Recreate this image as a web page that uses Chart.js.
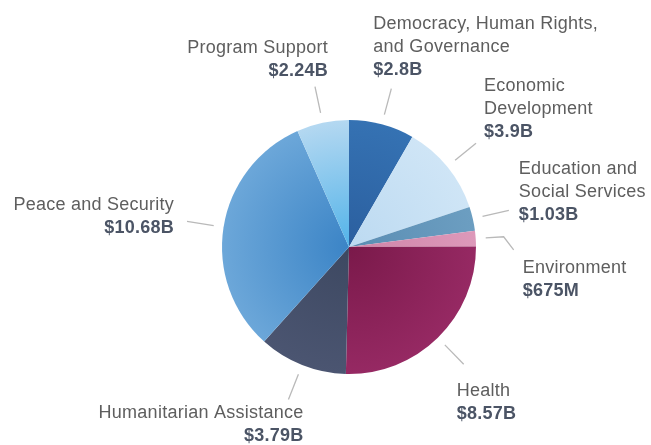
<!DOCTYPE html>
<html>
<head>
<meta charset="utf-8">
<script src="https://cdn.jsdelivr.net/npm/chart.js@4.4.0/dist/chart.umd.min.js"></script>
<style>
    html, body { margin: 0; padding: 0; background: #fff; }
    #wrap { width: 651px; height: 445px; }
</style>
</head>
<body>
<div id="wrap"><canvas id="pieCanvas" width="651" height="445"></canvas></div>
<script>
// funding by sector, in billions of dollars
const sectors = [
    ["Democracy, Human Rights,", "and Governance"],
    ["Economic", "Development"],
    ["Education and", "Social Services"],
    ["Environment"],
    ["Health"],
    ["Humanitarian Assistance"],
    ["Peace and Security"],
    ["Program Support"]
];
const amounts = [2.8, 3.9, 1.03, 0.675, 8.57, 3.79, 10.68, 2.24];

// slice colours: near the centre / at the rim
const innerColors = ["#2b5f9f", "#bcdaf1", "#5a8db3", "#cf84a8", "#7a194a", "#3d4861", "#3b84c6", "#52b3e9"];
const outerColors = ["#3572b3", "#cfe5f6", "#6c9ec1", "#dd99ba", "#962963", "#4b5571", "#6ca7d9", "#b4d8f1"];

// where each caption sits relative to the end of its leader line
const labelPlace = [
    { align: "left",  dx: -18, dy: -19, from: "last" },
    { align: "left",  dx: 8,   dy: -11, from: "last" },
    { align: "left",  dx: 10,  dy: 5,   from: "last" },
    { align: "left",  dx: 9,   dy: 18,  from: "first", bend: true },
    { align: "left",  dx: -7,  dy: 27,  from: "first" },
    { align: "right", dx: 15,  dy: 14,  from: "first" },
    { align: "right", dx: -13, dy: 7,   from: "last" },
    { align: "right", dx: 13,  dy: -16, from: "last" }
];

function money(v) {
    if (v < 1) return "$" + Math.round(v * 1000) + "M";
    return "$" + v + "B";
}

function sliceFill(ctx) {
    const chart = ctx.chart;
    const area = chart.chartArea;
    const i = ctx.dataIndex;
    if (!area) return innerColors[i];
    const cx = (area.left + area.right) / 2;
    const cy = (area.top + area.bottom) / 2;
    const r = Math.min(area.right - area.left, area.bottom - area.top) / 2;
    const g = chart.ctx.createRadialGradient(cx, cy, 0, cx, cy, r);
    g.addColorStop(0, innerColors[i]);
    g.addColorStop(1, outerColors[i]);
    return g;
}

const calloutPlugin = {
    id: "callouts",
    afterDatasetsDraw(chart) {
        const ctx = chart.ctx;
        const arcs = chart.getDatasetMeta(0).data;
        const lineH = 23;

        ctx.save();
        arcs.forEach((arc, i) => {
            const mid = (arc.startAngle + arc.endAngle) / 2;
            const r = arc.outerRadius;
            const x1 = arc.x + Math.cos(mid) * (r + 10);
            const y1 = arc.y + Math.sin(mid) * (r + 10);
            let x2 = arc.x + Math.cos(mid) * (r + 37);
            let y2 = arc.y + Math.sin(mid) * (r + 37);
            const place = labelPlace[i];

            ctx.strokeStyle = "#b9b9b9";
            ctx.lineWidth = 1.3;
            ctx.beginPath();
            ctx.moveTo(x1, y1);
            if (place.bend) {
                x2 = arc.x + Math.cos(mid) * (r + 28);
                y2 = arc.y + Math.sin(mid) * (r + 28);
                ctx.lineTo(x2, y2);
                x2 += 10;
                y2 += 13;
            }
            ctx.lineTo(x2, y2);
            ctx.stroke();

            const lines = sectors[i].concat([money(amounts[i])]);
            const tx = x2 + place.dx;
            let ty = y2 + place.dy;
            if (place.from === "last") ty -= (lines.length - 1) * lineH;

            ctx.textAlign = place.align;
            ctx.textBaseline = "middle";
            ctx.letterSpacing = "0.25px";
            lines.forEach((txt, k) => {
                const isValue = k === lines.length - 1;
                ctx.font = (isValue ? "bold " : "") + "18px 'Liberation Sans', Arial, sans-serif";
                ctx.fillStyle = isValue ? "#4b5465" : "#5e5e5e";
                ctx.fillText(txt, tx, ty + k * lineH);
            });
        });
        ctx.restore();
    }
};

const ctx = document.getElementById("pieCanvas").getContext("2d");

new Chart(ctx, {
    type: "pie",
    data: {
        labels: sectors.map(s => s.join(" ")),
        datasets: [{
            data: amounts,
            backgroundColor: sliceFill,
            borderWidth: 0
        }]
    },
    options: {
        responsive: false,
        animation: false,
        layout: {
            padding: { left: 222, right: 175, top: 120, bottom: 71 }
        },
        plugins: {
            legend: { display: false },
            tooltip: { enabled: false }
        }
    },
    plugins: [calloutPlugin]
});
</script>
</body>
</html>
